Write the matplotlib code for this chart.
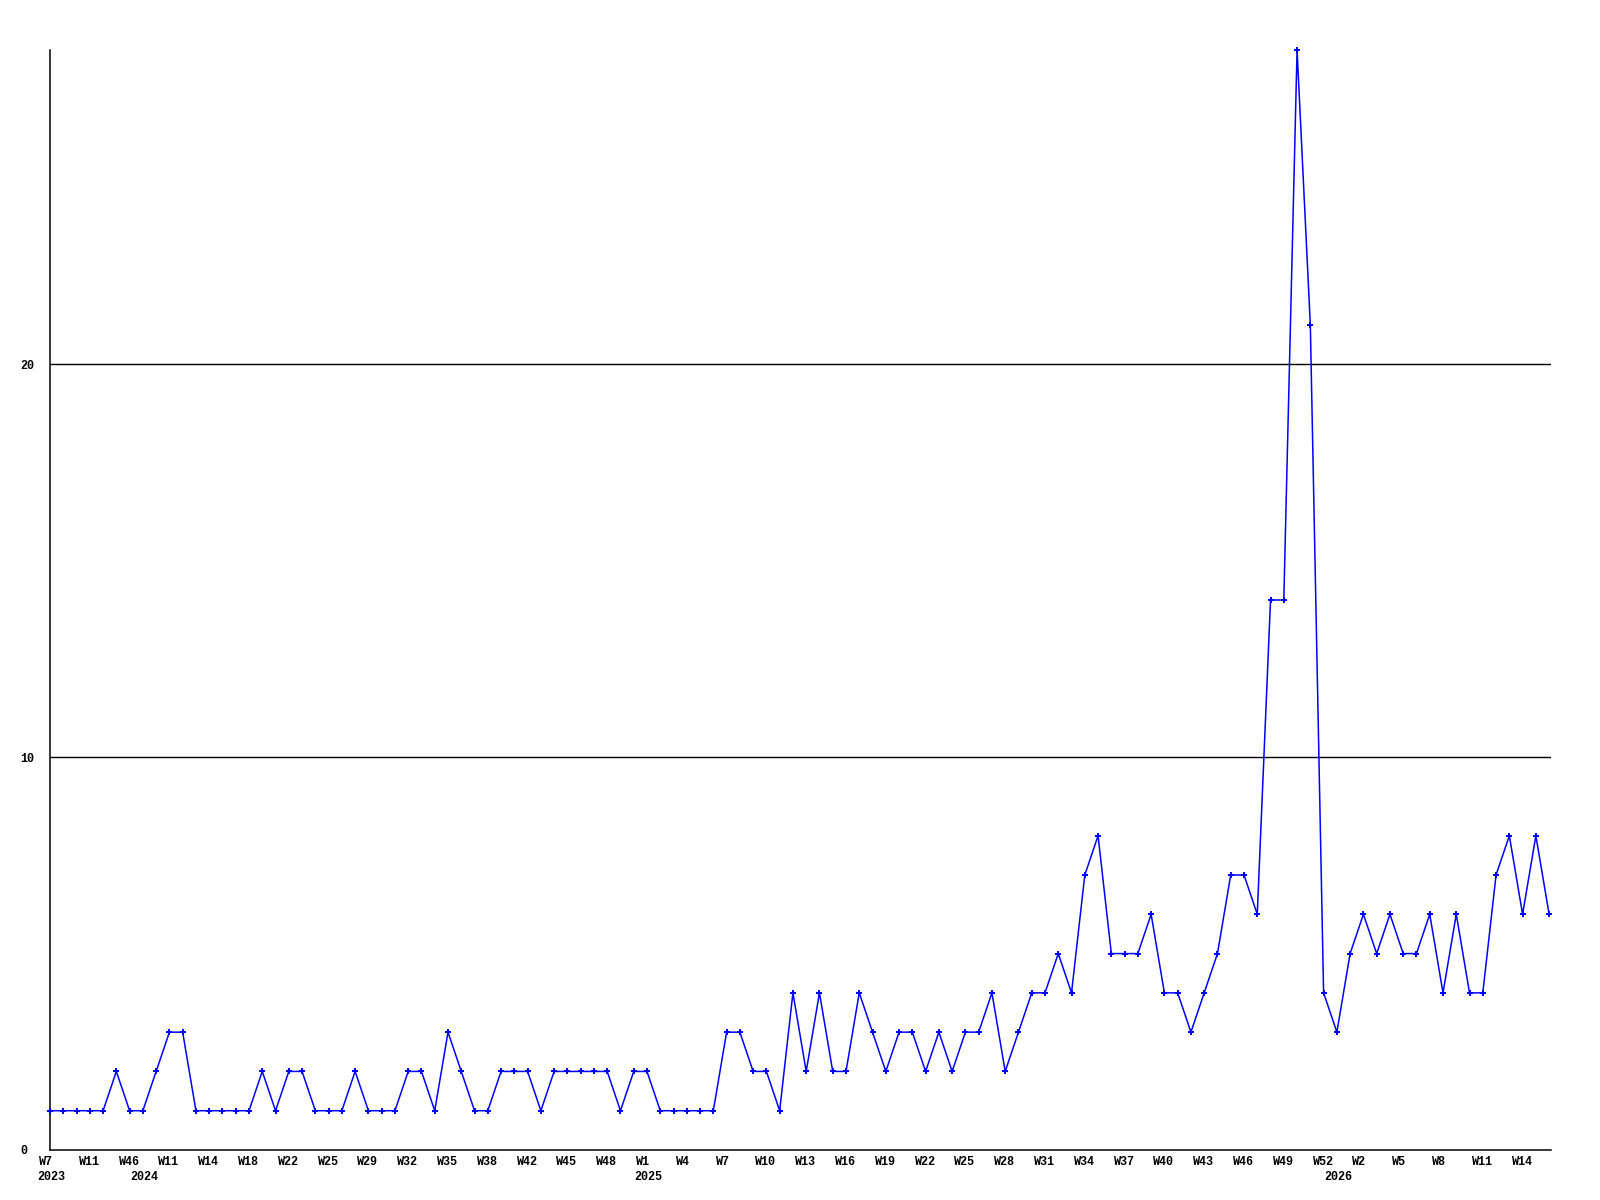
import matplotlib
matplotlib.use("Agg")
import matplotlib.pyplot as plt
from matplotlib.transforms import ScaledTranslation

# ---- data ----
values = [1, 1, 1, 1, 1, 2, 1, 1, 2, 3, 3, 1, 1, 1, 1, 1, 2, 1, 2, 2,
          1, 1, 1, 2, 1, 1, 1, 2, 2, 1,
          3, 2, 1, 1, 2, 2, 2, 1, 2, 2,
          2, 2, 2, 1, 2, 2, 1, 1, 1, 1,
          1, 3, 3, 2, 2, 1, 4, 2, 4, 2,
          2, 4, 3, 2, 3, 3, 2, 3, 2, 3,
          3, 4, 2, 3, 4, 4, 5, 4, 7, 8,
          5, 5, 5, 6, 4, 4, 3, 4, 5, 7,
          7, 6, 14, 14, 28, 21, 4, 3, 5, 6,
          5, 6, 5, 5, 6, 4, 6, 4, 4, 7,
          8, 6, 8, 6]
week_labels = ["W7", "W11", "W46", "W11", "W14", "W18", "W22", "W25", "W29", "W32",
               "W35", "W38", "W42", "W45", "W48", "W1", "W4", "W7", "W10", "W13",
               "W16", "W19", "W22", "W25", "W28", "W31", "W34", "W37", "W40", "W43",
               "W46", "W49", "W52", "W2", "W5", "W8", "W11", "W14"]
label_step = 3
year_labels = ["2023", "2024", "2025", "2026"]
year_index = [0, 7, 45, 97]
y_ticks = [0, 10, 20]

fig = plt.figure(figsize=(16, 12), dpi=100)
ax = fig.add_axes([50 / 1600, 1 - 1150 / 1200, (1551 - 50) / 1600, 1100 / 1200])

x = list(range(len(values)))
ax.plot(x, values, color="#0000ff", lw=1.1, marker="P", ms=5, mew=0,
        mfc="#0000ff", zorder=3, clip_on=False)

ax.set_xlim(0, (1551 - 50.3) / 13.264)
ax.set_ylim(0, 28)

for s in ["top", "right"]:
    ax.spines[s].set_visible(False)
for s in ["left", "bottom"]:
    ax.spines[s].set_linewidth(1.1)
    ax.spines[s].set_color("black")

for yv in y_ticks[1:]:
    ax.axhline(yv, color="black", lw=1.0, zorder=1)

font = dict(family="Liberation Mono", weight="bold", size=8.5)

ax.set_xticks([])
ax.set_yticks(y_ticks)
ax.set_yticklabels([str(v) for v in y_ticks], **font)
ax.tick_params(axis="y", length=0, pad=30 * 72 / 100)
for lbl in ax.get_yticklabels():
    lbl.set_horizontalalignment("left")

tx = ax.get_xaxis_transform()
for i, lab in enumerate(week_labels):
    ax.text(i * label_step, 0, lab, ha="left", va="center",
            transform=tx + ScaledTranslation(-11 / 100, -12 / 100, fig.dpi_scale_trans),
            **font)
for yl, yi in zip(year_labels, year_index):
    ax.text(yi, 0, yl, ha="left", va="center",
            transform=tx + ScaledTranslation(-13 / 100, -27 / 100, fig.dpi_scale_trans),
            **font)

fig.savefig("out.png", dpi=100, facecolor="white")
